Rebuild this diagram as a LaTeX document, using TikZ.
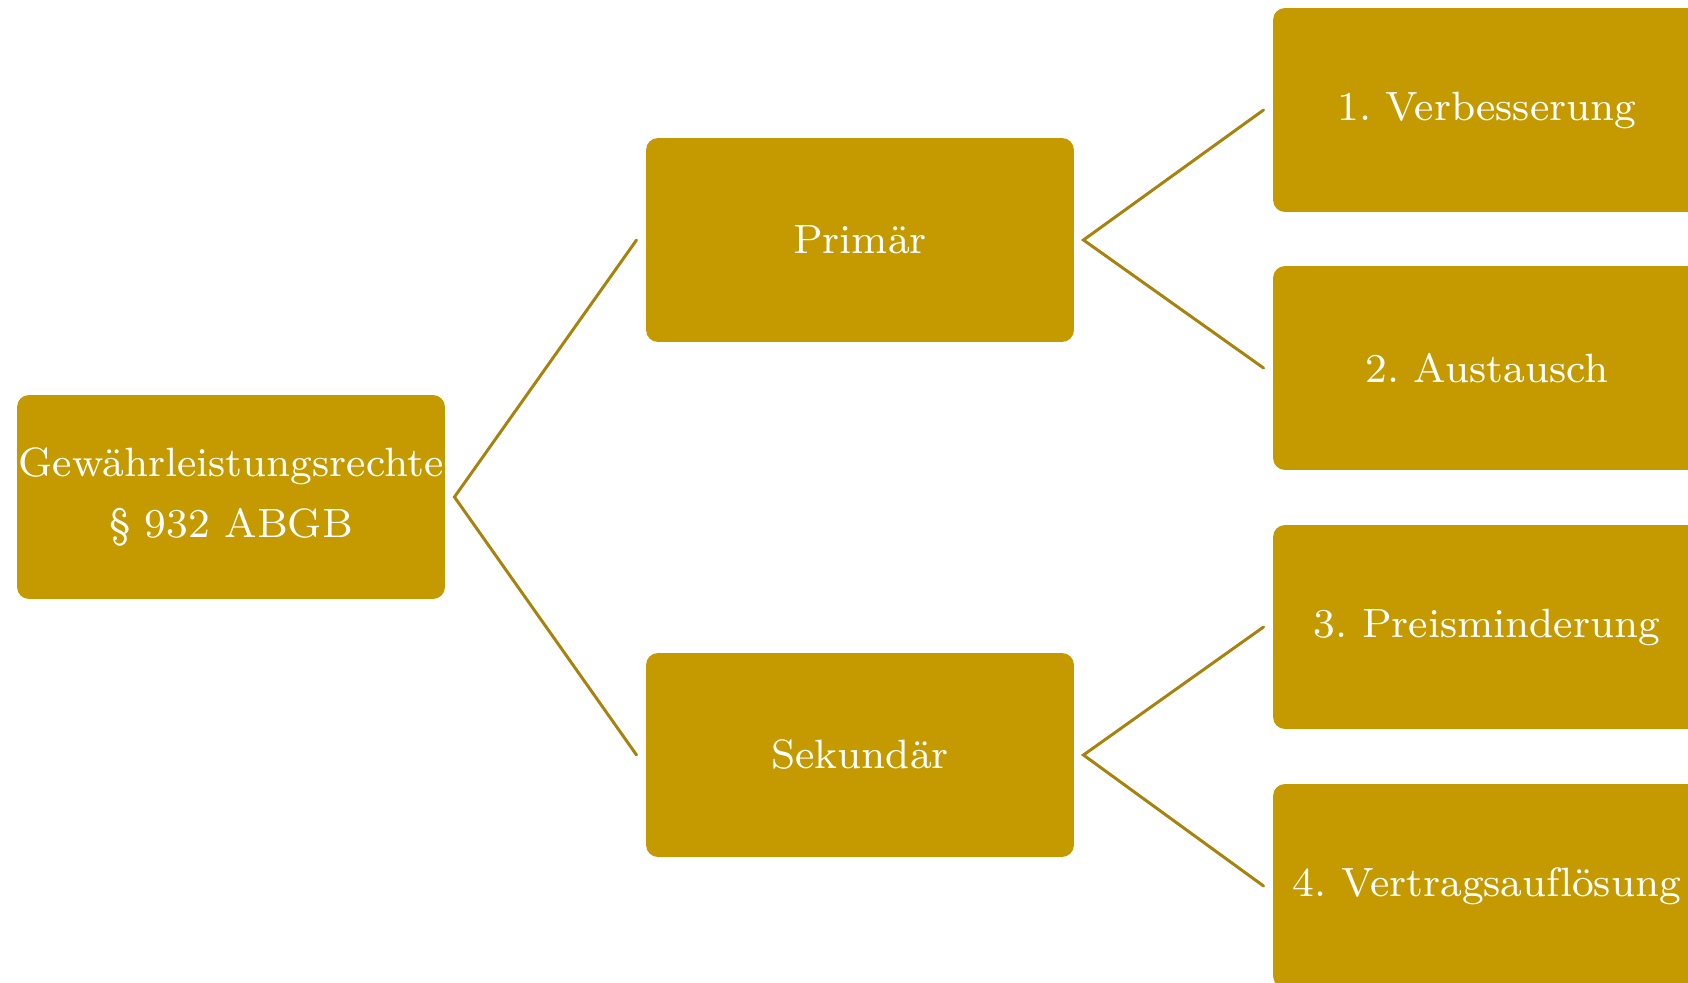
\documentclass[tikz,border=0pt]{standalone}
\usepackage{fontspec}
\setmainfont{lmroman8-regular}[Extension=.otf]
\usetikzlibrary{positioning}
\definecolor{gold}{RGB}{196,154,0}
\definecolor{goldline}{RGB}{168,130,12}

\begin{document}
\frenchspacing
\begin{tikzpicture}[x=0.02cm, y=-0.02cm,
    every node/.style={fill=gold, text=white, rounded corners=0.24cm, align=center,
      minimum width=8.56cm, minimum height=4.08cm, inner sep=0pt, outer xsep=0.19cm,
      font=\fontsize{23.3}{33.5}\selectfont}]
    \useasboundingbox (0,0) rectangle (1688,983);
    \clip (0,0) rectangle (1688,983);

    \node (gwl) at (231,497) {Gewährleistungsrechte\\[1pt]\S\ 932 ABGB};
    \node (prim) at (860,240) {Primär};
    \node (sek) at (860,755) {Sekundär};
    \node (verb) at (1487,110) {1. Verbesserung};
    \node (aust) at (1487,368) {2. Austausch};
    \node (preis) at (1487,627) {3. Preisminderung};
    \node (aufl) at (1487,886) {4. Vertragsauf\kern0pt lösung};

    \draw[goldline, line width=1.7pt, line cap=round] (prim.west) -- (gwl.east) -- (sek.west);
    \draw[goldline, line width=1.7pt, line cap=round] (verb.west) -- (prim.east) -- (aust.west);
    \draw[goldline, line width=1.7pt, line cap=round] (preis.west) -- (sek.east) -- (aufl.west);
  \end{tikzpicture}
\end{document}
